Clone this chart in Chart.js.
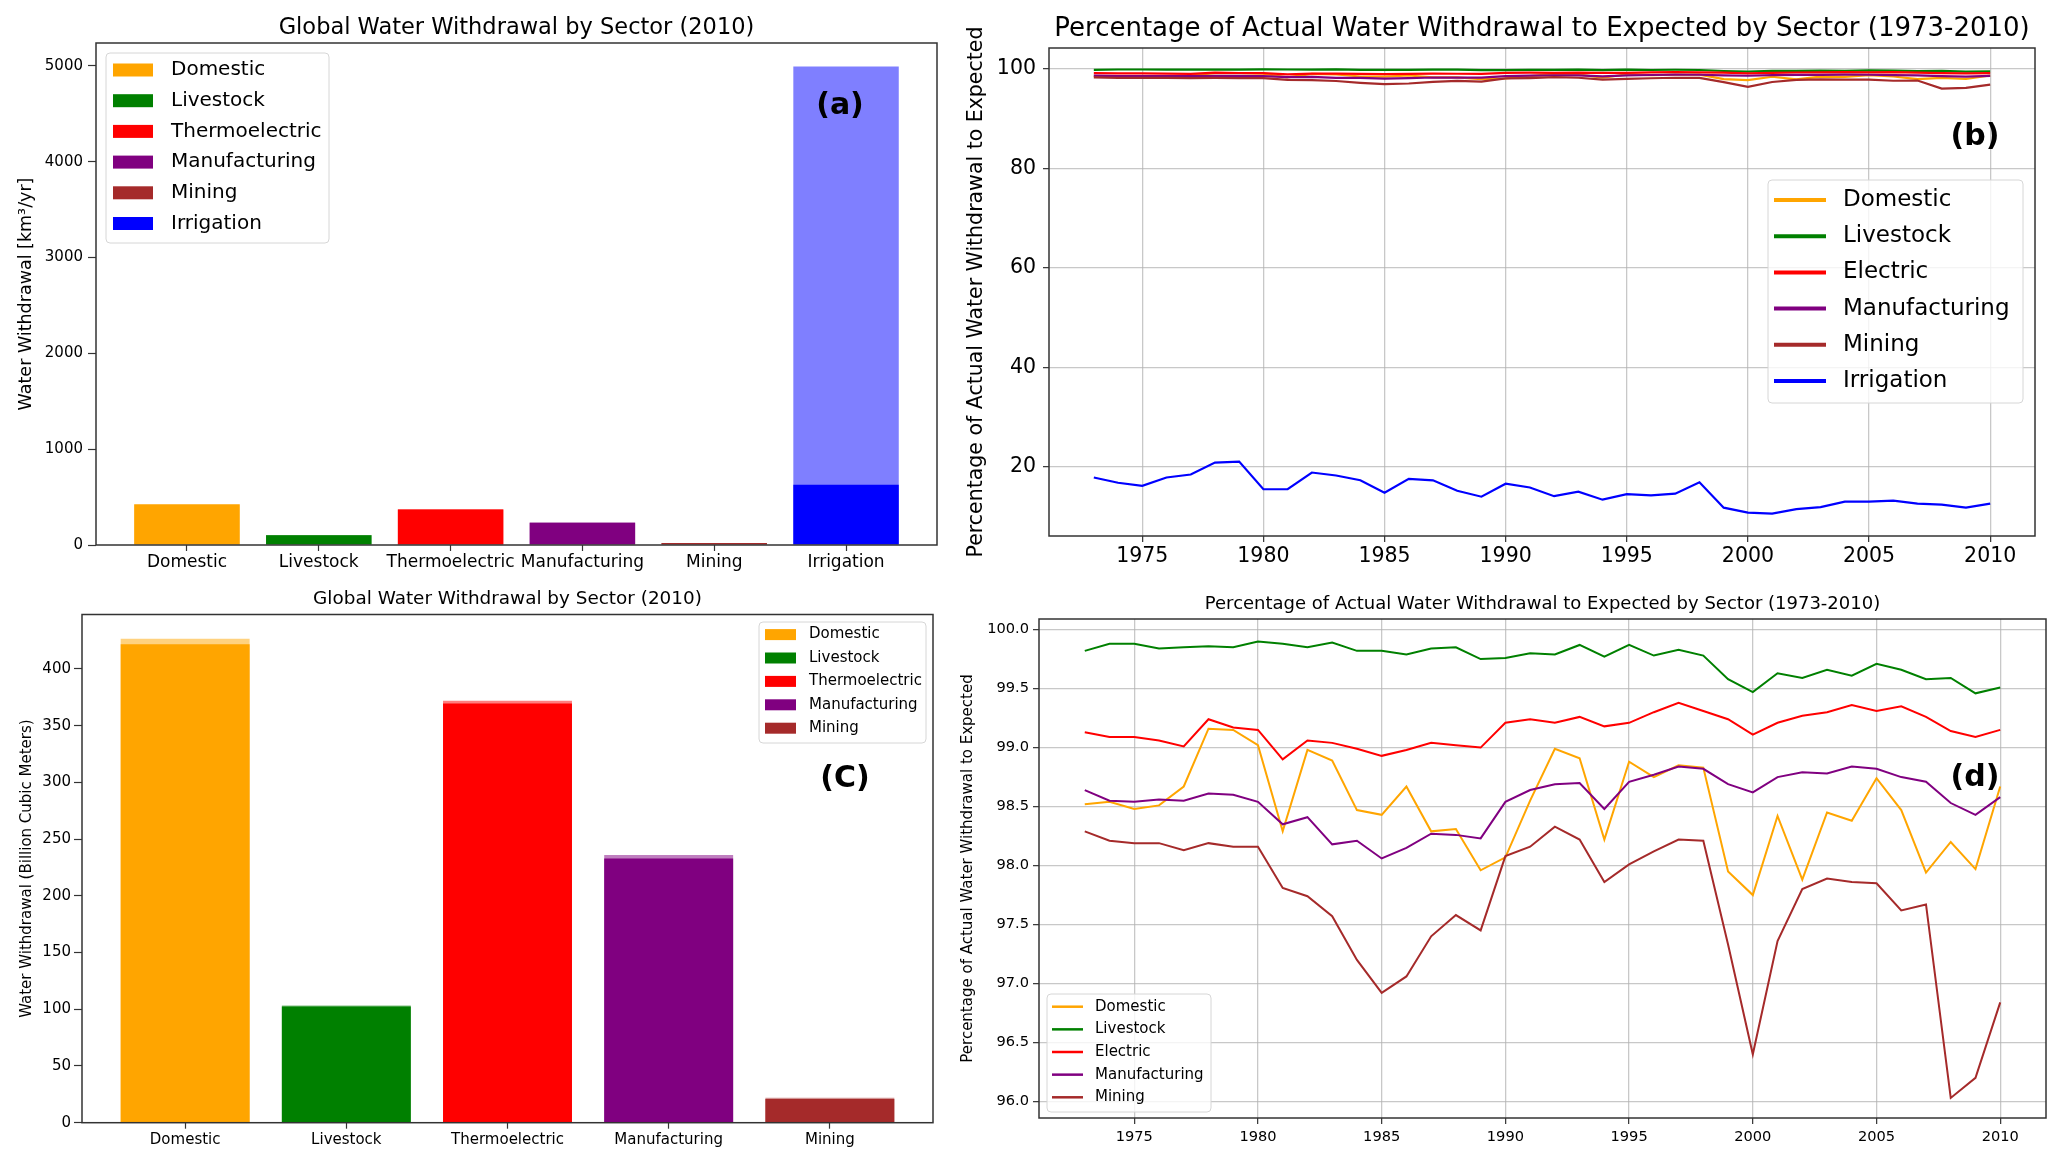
<!DOCTYPE html>
<html>
<head>
<meta charset="utf-8">
<script src="https://cdn.jsdelivr.net/npm/chart.js@4.4.1/dist/chart.umd.min.js"></script>
<style>
  body { margin: 0; background: #fff; width: 2067px; height: 1167px; position: relative; overflow: hidden; }
  canvas { position: absolute; }
</style>
</head>
<body>
<canvas id="chartA" width="950" height="580" style="left:0;top:0;width:950px;height:580px"></canvas>
<canvas id="chartB" width="1117" height="580" style="left:950px;top:0;width:1117px;height:580px"></canvas>
<canvas id="chartC" width="950" height="587" style="left:0;top:580px;width:950px;height:587px"></canvas>
<canvas id="chartD" width="1117" height="587" style="left:950px;top:580px;width:1117px;height:587px"></canvas>
<script>
// 2010 withdrawal by sector (km3 / billion m3)
const sectors = ["Domestic", "Livestock", "Thermoelectric", "Manufacturing", "Mining", "Irrigation"];
const sectorColors = ["#FFA500", "#008000", "#FF0000", "#800080", "#A52A2A", "#0000FF"];
const actual2010 = [421.7, 102.5, 369.6, 233.0, 20.8, 630];
const expected2010 = [426.7, 103.3, 372.0, 236.0, 22.0, 4995];

// yearly percentage actual / expected
const years = [1973, 1974, 1975, 1976, 1977, 1978, 1979, 1980, 1981, 1982,
  1983, 1984, 1985, 1986, 1987, 1988, 1989, 1990, 1991, 1992,
  1993, 1994, 1995, 1996, 1997, 1998, 1999, 2000, 2001, 2002,
  2003, 2004, 2005, 2006, 2007, 2008, 2009, 2010];
const domestic = [98.52, 98.54, 98.48, 98.51, 98.67, 99.16, 99.15, 99.02, 98.29, 98.98,
  98.89, 98.47, 98.43, 98.67, 98.29, 98.31, 97.96, 98.07, 98.55, 98.99,
  98.91, 98.22, 98.88, 98.75, 98.85, 98.83, 97.95, 97.75, 98.42, 97.88,
  98.45, 98.38, 98.74, 98.47, 97.94, 98.20, 97.97, 98.67];
const livestock = [99.82, 99.88, 99.88, 99.84, 99.85, 99.86, 99.85, 99.90, 99.88, 99.85,
  99.89, 99.82, 99.82, 99.79, 99.84, 99.85, 99.75, 99.76, 99.80, 99.79,
  99.87, 99.77, 99.87, 99.78, 99.83, 99.78, 99.58, 99.47, 99.63, 99.59,
  99.66, 99.61, 99.71, 99.66, 99.58, 99.59, 99.46, 99.51];
const electric = [99.13, 99.09, 99.09, 99.06, 99.01, 99.24, 99.17, 99.15, 98.90, 99.06,
  99.04, 98.99, 98.93, 98.98, 99.04, 99.02, 99.00, 99.21, 99.24, 99.21,
  99.26, 99.18, 99.21, 99.30, 99.38, 99.31, 99.24, 99.11, 99.21, 99.27,
  99.30, 99.36, 99.31, 99.35, 99.26, 99.14, 99.09, 99.15];
const manufacturing = [98.64, 98.55, 98.54, 98.56, 98.55, 98.61, 98.60, 98.54, 98.35, 98.41,
  98.18, 98.21, 98.06, 98.15, 98.27, 98.26, 98.23, 98.54, 98.64, 98.69,
  98.70, 98.48, 98.71, 98.77, 98.84, 98.82, 98.69, 98.62, 98.75, 98.79,
  98.78, 98.84, 98.82, 98.75, 98.71, 98.53, 98.43, 98.58];
const mining = [98.29, 98.21, 98.19, 98.19, 98.13, 98.19, 98.16, 98.16, 97.81, 97.74,
  97.57, 97.20, 96.92, 97.06, 97.40, 97.58, 97.45, 98.08, 98.16, 98.33,
  98.22, 97.86, 98.01, 98.12, 98.22, 98.21, 97.33, 96.40, 97.36, 97.80,
  97.89, 97.86, 97.85, 97.62, 97.67, 96.03, 96.20, 96.84];
const irrigation = [17.86, 16.8, 16.2, 17.86, 18.46, 20.87, 21.07, 15.5, 15.5, 18.86,
  18.26, 17.3, 14.8, 17.6, 17.3, 15.2, 14.0, 16.6, 15.85, 14.1,
  15.0, 13.4, 14.5, 14.25, 14.6, 16.9, 11.8, 10.8, 10.6, 11.5,
  11.9, 13.0, 13.0, 13.2, 12.6, 12.4, 11.8, 12.6];
const lineNames = ["Domestic", "Livestock", "Electric", "Manufacturing", "Mining", "Irrigation"];
const lineSeries = [domestic, livestock, electric, manufacturing, mining, irrigation];

// tick labels
const ticksA = [0, 1000, 2000, 3000, 4000, 5000];
const ticksB = [20, 40, 60, 80, 100];
const ticksC = [0, 50, 100, 150, 200, 250, 300, 350, 400];
const ticksD = [96.0, 96.5, 97.0, 97.5, 98.0, 98.5, 99.0, 99.5, 100.0];
const yearTicks = [1975, 1980, 1985, 1990, 1995, 2000, 2005, 2010];

const titleBar = "Global Water Withdrawal by Sector (2010)";
const titleLine = "Percentage of Actual Water Withdrawal to Expected by Sector (1973-2010)";
const FONT = '"DejaVu Sans", sans-serif';

Chart.defaults.font.family = FONT;
Chart.defaults.color = "#000";

function fade(hex, a) {
  const n = parseInt(hex.slice(1), 16);
  return `rgba(${(n >> 16) & 255},${(n >> 8) & 255},${n & 255},${a})`;
}
function fixTicks(values) {
  return (scale) => { scale.ticks = values.map((v) => ({ value: v })); };
}
function fixSize(prop, size) {
  return (scale) => { scale[prop] = size; };
}

// titles, panel tags, matplotlib-like legend and the frame
function decor(spec) {
  return {
    id: "decor",
    afterDraw(chart) {
      const ctx = chart.ctx;
      const a = chart.chartArea;
      ctx.save();
      ctx.strokeStyle = "#333";
      ctx.lineWidth = 1.5;
      ctx.strokeRect(a.left, a.top, a.right - a.left, a.bottom - a.top);

      ctx.fillStyle = "#000";
      ctx.textAlign = "center";
      ctx.textBaseline = "middle";
      ctx.font = spec.titleSize + "px " + FONT;
      ctx.fillText(spec.title, (a.left + a.right) / 2, spec.titleY);
      ctx.font = "bold " + spec.tagSize + "px " + FONT;
      ctx.fillText(spec.tag, spec.tagX, spec.tagY);

      const lg = spec.legend;
      const [x0, y0, x1, y1] = lg.box;
      const r = 4;
      ctx.beginPath();
      ctx.moveTo(x0 + r, y0);
      ctx.arcTo(x1, y0, x1, y1, r);
      ctx.arcTo(x1, y1, x0, y1, r);
      ctx.arcTo(x0, y1, x0, y0, r);
      ctx.arcTo(x0, y0, x1, y0, r);
      ctx.closePath();
      ctx.fillStyle = "rgba(255,255,255,0.8)";
      ctx.fill();
      ctx.strokeStyle = "#d6d6d6";
      ctx.lineWidth = 1;
      ctx.stroke();

      ctx.textAlign = "left";
      ctx.font = lg.fontSize + "px " + FONT;
      lg.labels.forEach((label, i) => {
        const y = lg.rowY + i * lg.rowGap;
        if (lg.kind === "patch") {
          ctx.fillStyle = lg.colors[i];
          ctx.fillRect(lg.handleX, y - lg.handleH / 2, lg.handleW, lg.handleH);
        } else {
          ctx.strokeStyle = lg.colors[i];
          ctx.lineWidth = lg.handleH;
          ctx.beginPath();
          ctx.moveTo(lg.handleX, y);
          ctx.lineTo(lg.handleX + lg.handleW, y);
          ctx.stroke();
        }
        ctx.fillStyle = "#000";
        ctx.fillText(label, lg.textX, y);
      });
      ctx.restore();
    }
  };
}

function barPanel(id, cfg) {
  const names = sectors.slice(0, cfg.count);
  const colors = sectorColors.slice(0, cfg.count);
  return new Chart(document.getElementById(id), {
    type: "bar",
    data: {
      datasets: [
        {
          data: expected2010.slice(0, cfg.count).map((v, i) => ({ x: i, y: v })),
          backgroundColor: colors.map((c) => fade(c, 0.5)),
          grouped: false, barPercentage: 0.8, categoryPercentage: 1, order: 2
        },
        {
          data: actual2010.slice(0, cfg.count).map((v, i) => ({ x: i, y: v })),
          backgroundColor: colors,
          grouped: false, barPercentage: 0.8, categoryPercentage: 1, order: 1
        }
      ]
    },
    options: {
      responsive: false, animation: false, devicePixelRatio: 1,
      layout: { padding: cfg.padding },
      plugins: { legend: { display: false }, tooltip: { enabled: false } },
      scales: {
        x: {
          type: "linear", min: cfg.xMin, max: cfg.xMax, offset: false,
          afterBuildTicks: fixTicks(names.map((n, i) => i)),
          afterFit: fixSize("height", cfg.xHeight),
          border: { display: false },
          grid: { drawOnChartArea: false, offset: false, tickLength: cfg.tick, tickColor: "#333", tickWidth: 1.2 },
          ticks: { autoSkip: false, maxRotation: 0, padding: cfg.xPad, font: { size: cfg.xFont }, callback: (v) => names[v] }
        },
        y: {
          min: 0, max: cfg.yMax,
          afterBuildTicks: fixTicks(cfg.yTicks),
          afterFit: fixSize("width", cfg.yWidth),
          border: { display: false },
          grid: { drawOnChartArea: false, tickLength: cfg.tick + 2, tickColor: "#333", tickWidth: 1.2 },
          ticks: { padding: cfg.yPad, font: { size: cfg.yFont }, callback: (v) => String(v) },
          title: { display: true, text: cfg.yLabel, font: { size: cfg.yLabelSize }, padding: { top: cfg.yLabelPad, bottom: 0 } }
        }
      }
    },
    plugins: [decor(cfg.decor)]
  });
}

function linePanel(id, cfg) {
  const n = cfg.count;
  return new Chart(document.getElementById(id), {
    type: "line",
    data: {
      datasets: lineSeries.slice(0, n).map((s, i) => ({
        label: lineNames[i],
        data: years.map((yr, j) => ({ x: yr, y: s[j] })),
        borderColor: sectorColors[i],
        borderWidth: cfg.lineWidth,
        pointRadius: 0, fill: false, tension: 0,
        order: n - i
      }))
    },
    options: {
      responsive: false, animation: false, devicePixelRatio: 1,
      layout: { padding: cfg.padding },
      plugins: { legend: { display: false }, tooltip: { enabled: false } },
      scales: {
        x: {
          type: "linear", min: 1971.15, max: 2011.85,
          afterBuildTicks: fixTicks(yearTicks),
          afterFit: fixSize("height", cfg.xHeight),
          border: { display: false },
          grid: { color: "rgba(176,176,176,0.7)", lineWidth: 1.3, tickLength: cfg.tick, tickColor: "#333", tickWidth: 1.2 },
          ticks: { autoSkip: false, maxRotation: 0, padding: cfg.xPad, font: { size: cfg.tickFont }, callback: (v) => String(v) }
        },
        y: {
          min: cfg.yMin, max: cfg.yMax,
          afterBuildTicks: fixTicks(cfg.yTicks),
          afterFit: fixSize("width", cfg.yWidth),
          border: { display: false },
          grid: { color: "rgba(176,176,176,0.7)", lineWidth: 1.3, tickLength: cfg.tick, tickColor: "#333", tickWidth: 1.2 },
          ticks: { padding: cfg.yPad, font: { size: cfg.tickFont }, callback: cfg.yFormat },
          title: { display: true, text: "Percentage of Actual Water Withdrawal to Expected", font: { size: cfg.yLabelSize }, padding: { top: cfg.yLabelPad, bottom: 0 } }
        }
      }
    },
    plugins: [decor(cfg.decor)]
  });
}

// (a) all sectors incl. irrigation
barPanel("chartA", {
  count: 6, xMin: -0.69, xMax: 5.69, yMax: 5240, yTicks: ticksA,
  padding: { left: 0, top: 43, right: 13, bottom: 0 }, xHeight: 35, yWidth: 96,
  tick: 6, xPad: 1, yPad: 5, xFont: 17, yFont: 15,
  yLabel: "Water Withdrawal [km³/yr]", yLabelSize: 17.5, yLabelPad: 15.5,
  decor: {
    title: titleBar, titleSize: 22.5, titleY: 28, tag: "(a)", tagSize: 30, tagX: 840, tagY: 106,
    legend: { box: [106, 53, 329, 243], labels: sectors, colors: sectorColors, kind: "patch",
      rowY: 70, rowGap: 30.7, handleX: 113, handleW: 40, handleH: 13, textX: 171, fontSize: 20 }
  }
});

// (b) all sectors, full percentage range
linePanel("chartB", {
  count: 6, yMin: 6.1, yMax: 104.2, yTicks: ticksB, lineWidth: 2.2,
  padding: { left: 0, top: 48, right: 32, bottom: 0 }, xHeight: 44, yWidth: 99,
  tick: 6, xPad: 2, yPad: 7, tickFont: 20.5, yFormat: (v) => String(v),
  yLabelSize: 20.5, yLabelPad: 14.7,
  decor: {
    title: titleLine, titleSize: 26, titleY: 29, tag: "(b)", tagSize: 30, tagX: 1025, tagY: 137,
    legend: { box: [818, 180, 1073, 403], labels: lineNames, colors: sectorColors, kind: "line",
      rowY: 200, rowGap: 36.2, handleX: 824, handleW: 52, handleH: 4, textX: 893, fontSize: 23 }
  }
});

// (c) without irrigation
barPanel("chartC", {
  count: 5, xMin: -0.64, xMax: 4.64, yMax: 448, yTicks: ticksC,
  padding: { left: 0, top: 34.5, right: 17, bottom: 0 }, xHeight: 44.3, yWidth: 82,
  tick: 6, xPad: 2, yPad: 3, xFont: 15, yFont: 15,
  yLabel: "Water Withdrawal (Billion Cubic Meters)", yLabelSize: 15, yLabelPad: 18,
  decor: {
    title: titleBar, titleSize: 18.4, titleY: 19, tag: "(C)", tagSize: 30, tagX: 845, tagY: 199.5,
    legend: { box: [759, 42, 926, 163], labels: sectors.slice(0, 5), colors: sectorColors.slice(0, 5), kind: "patch",
      rowY: 54.6, rowGap: 23.4, handleX: 765, handleW: 31, handleH: 11, textX: 809, fontSize: 15 }
  }
});

// (d) without irrigation, zoomed
linePanel("chartD", {
  count: 5, yMin: 95.86, yMax: 100.09, yTicks: ticksD, lineWidth: 2,
  padding: { left: 0, top: 39, right: 21, bottom: 0 }, xHeight: 49, yWidth: 89,
  tick: 6, xPad: 4, yPad: 4, tickFont: 14.6, yFormat: (v) => v.toFixed(1),
  yLabelSize: 15, yLabelPad: 9,
  decor: {
    title: titleLine, titleSize: 18, titleY: 24, tag: "(d)", tagSize: 30, tagX: 1025, tagY: 198,
    legend: { box: [97, 414, 261, 532], labels: lineNames.slice(0, 5), colors: sectorColors.slice(0, 5), kind: "line",
      rowY: 426.7, rowGap: 22.65, handleX: 102, handleW: 31, handleH: 2.5, textX: 145, fontSize: 15 }
  }
});
</script>
</body>
</html>
